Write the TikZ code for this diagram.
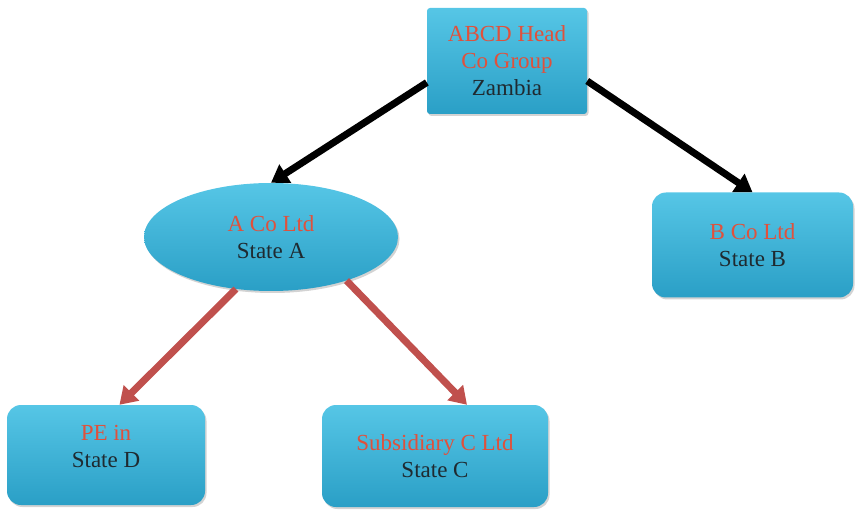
\documentclass[tikz,border=0pt]{standalone}
\usepackage{fontspec}
\setmainfont{Liberation Serif}
\usetikzlibrary{shapes.geometric,arrows.meta,shadows}
\definecolor{boxtop}{HTML}{56C6E6}
\definecolor{boxbot}{HTML}{2A9FC6}
\definecolor{redtxt}{HTML}{E0513C}
\definecolor{darktxt}{HTML}{1F2A30}
\definecolor{redarrow}{HTML}{C0504D}
\tikzset{
  orgbox/.style={draw=none, top color=boxtop, bottom color=boxbot, inner sep=0pt,
    drop shadow={shadow xshift=1.5pt, shadow yshift=-2pt, opacity=0.35},
    align=center, font=\fontsize{23}{27}\selectfont, text=darktxt},
  roundbox/.style={orgbox, rectangle, rounded corners=14pt},
  blackarrow/.style={line width=7pt, draw=black, -{Triangle[length=17pt,width=21pt]}},
  redarr/.style={line width=7pt, draw=redarrow, -{Triangle[length=17pt,width=21pt]}},
}
\newcommand{\rd}[1]{\textcolor{redtxt}{#1}}
\begin{document}
\begin{tikzpicture}[x=1pt,y=-1pt]
\useasboundingbox (0,0) rectangle (856,510);
\node[orgbox, rectangle, rounded corners=3pt, minimum width=160pt, minimum height=106pt] (top) at (507,61)
  {\rd{ABCD Head}\\\rd{Co Group}\\Zambia};
\node[orgbox, ellipse, minimum width=254pt, minimum height=108pt] (acoltd) at (271,237)
  {\rd{A Co Ltd}\\State A};
\node[roundbox, minimum width=201pt, minimum height=105pt] (bcoltd) at (752.5,245)
  {\rd{B Co Ltd}\\State B};
\node[roundbox, minimum width=198pt, minimum height=100pt,
  label={[font=\fontsize{23}{27}\selectfont, text=darktxt, align=center, yshift=9pt]center:\rd{PE in}\\State D}] (pe) at (106,455) {};
\node[roundbox, minimum width=226pt, minimum height=102pt] (subc) at (435,456)
  {\rd{Subsidiary C Ltd}\\State C};
\draw[blackarrow] (top.195) -- (acoltd.90);
\draw[blackarrow] (top.-14) -- (bcoltd.north);
\draw[redarr] (acoltd.236) -- (pe.75);
\draw[redarr] (acoltd.-30) -- (subc.58);
\end{tikzpicture}
\end{document}
